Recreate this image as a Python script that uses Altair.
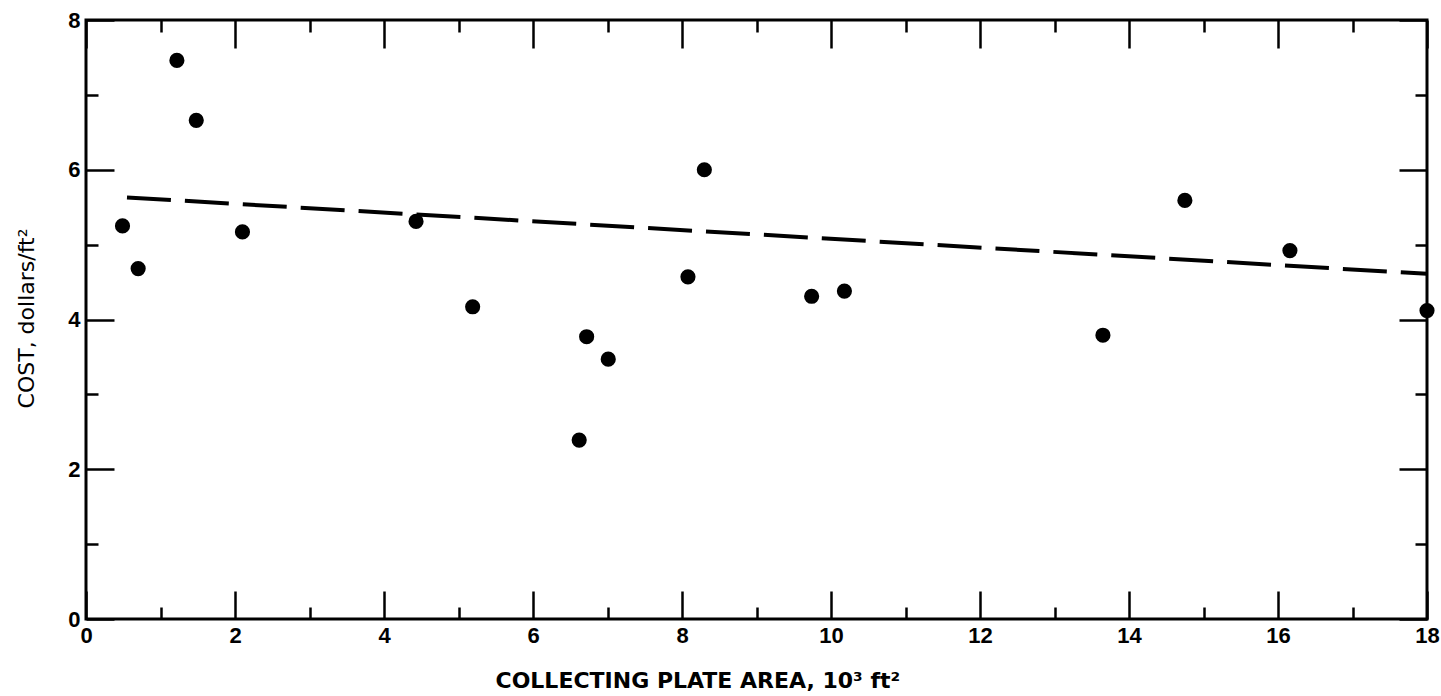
import altair as alt
import pandas as pd

# Collecting plate area (10^3 ft^2) and installed cost (dollars/ft^2)
area = [0.49, 0.70, 1.22, 1.48, 2.10, 4.43, 5.19, 6.62, 6.72, 7.01, 8.08, 8.30,
        9.74, 10.18, 13.65, 14.75, 16.16, 18.0]
cost = [5.25, 4.68, 7.46, 6.66, 5.17, 5.31, 4.17, 2.39, 3.77, 3.47, 4.57, 6.00,
        4.31, 4.38, 3.79, 5.59, 4.92, 4.12]

# Trend line end points
fit_area = [0.55, 18.0]
fit_cost = [5.63, 4.61]

x_major = [0, 2, 4, 6, 8, 10, 12, 14, 16, 18]
x_minor = [1, 3, 5, 7, 9, 11, 13, 15, 17]
y_major = [0, 2, 4, 6, 8]
y_minor = [1, 3, 5, 7]

pts = pd.DataFrame({"area": area, "cost": cost})
fit = pd.DataFrame({"area": fit_area, "cost": fit_cost})

LABEL_FONT = "Liberation Sans"
TITLE_FONT = "DejaVu Sans"
xs = alt.Scale(domain=[0, 18], nice=False, zero=False)
ys = alt.Scale(domain=[0, 8], nice=False, zero=False)


def tick_axis(orient, values, length):
    # inward-pointing ticks: axis pulled inside the frame by its tick length
    return alt.Axis(orient=orient, values=values, offset=-length, tickSize=length,
                    tickWidth=2.5, tickColor="black", labels=False, domain=False,
                    grid=False, title=None)


x_label_axis = alt.Axis(
    orient="bottom", values=x_major, ticks=False, domain=False, grid=False,
    labelFont=LABEL_FONT, labelFontSize=22, labelFontWeight="bold", labelColor="black",
    labelPadding=6, labelFlush=False, labelOverlap=False,
    title="COLLECTING PLATE AREA, 10³ ft²", titleFont=TITLE_FONT, titleFontSize=22,
    titleFontWeight="bold", titleColor="black", titleX=409, titleY=61,
    titleAlign="left", titleBaseline="middle",
)
y_label_axis = alt.Axis(
    orient="left", values=y_major, ticks=False, domain=False, grid=False,
    labelFont=LABEL_FONT, labelFontSize=22, labelFontWeight="bold", labelColor="black",
    labelPadding=6, labelFlush=False, labelOverlap=False,
    title="COST, dollars/ft²", titleFont=TITLE_FONT, titleFontSize=22,
    titleFontWeight="normal", titleColor="black", titleX=-60, titleY=298,
    titleAngle=270, titleAlign="center", titleBaseline="middle",
)

trend = alt.Chart(fit).mark_line(color="black", strokeWidth=4, strokeDash=[44, 14]).encode(
    x=alt.X("area:Q", scale=xs, axis=tick_axis("bottom", x_major, 28)),
    y=alt.Y("cost:Q", scale=ys, axis=tick_axis("left", y_major, 28)),
)

points = alt.Chart(pts).mark_circle(size=230, color="black", opacity=1).encode(
    x=alt.X("area:Q", scale=xs, axis=x_label_axis),
    y=alt.Y("cost:Q", scale=ys, axis=y_label_axis),
)

minor_bl = alt.Chart(fit).mark_line(opacity=0).encode(
    x=alt.X("area:Q", scale=xs, axis=tick_axis("bottom", x_minor, 12)),
    y=alt.Y("cost:Q", scale=ys, axis=tick_axis("left", y_minor, 12)),
)
major_tr = alt.Chart(fit).mark_line(opacity=0).encode(
    x=alt.X("area:Q", scale=xs, axis=tick_axis("top", x_major, 28)),
    y=alt.Y("cost:Q", scale=ys, axis=tick_axis("right", y_major, 28)),
)
minor_tr = alt.Chart(fit).mark_line(opacity=0).encode(
    x=alt.X("area:Q", scale=xs, axis=tick_axis("top", x_minor, 12)),
    y=alt.Y("cost:Q", scale=ys, axis=tick_axis("right", y_minor, 12)),
)

chart = (
    alt.layer(trend, points, minor_bl, major_tr, minor_tr)
    .resolve_axis(x="independent", y="independent")
    .properties(
        width=1341,
        height=599,
        autosize=alt.AutoSizeParams(type="none"),
        padding={"left": 86, "top": 20, "right": 14, "bottom": 77},
        background="white",
    )
    .configure_view(stroke="black", strokeWidth=3)
)

chart.save("out.html", embed_options={"renderer": "svg", "actions": False})
